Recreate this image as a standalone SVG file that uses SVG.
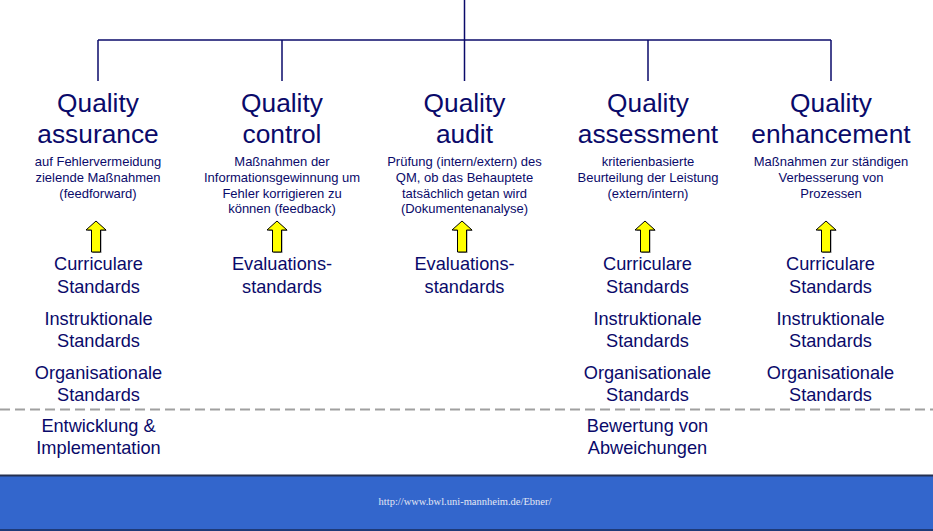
<svg xmlns="http://www.w3.org/2000/svg" xmlns:xlink="http://www.w3.org/1999/xlink" width="933" height="531" viewBox="0 0 933 531">
  <style>
    .t { font-family: "Liberation Sans", Arial, sans-serif; fill: #0a0a6a; text-anchor: middle; }
    .title { font-size: 26.3px; }
    .desc { font-size: 13px; }
    .std { font-size: 18.2px; }
    .conn { stroke: #0a0a6a; stroke-width: 1.5; fill: none; }
    .dash { stroke: #a0a0a0; stroke-width: 2; stroke-dasharray: 10 5; fill: none; }
    .foot { font-family: "Liberation Serif", "Times New Roman", serif; font-size: 10.5px; fill: #e4e8f4; text-anchor: middle; }
  </style>
  <defs>
    <g id="arrow">
      <path d="M1,1 L11,10 L5.5,10 L5.5,32 L-3.5,32 L-3.5,10 L-9,10 Z" fill="#8a8a8a"/>
      <path d="M0,0 L10,9 L4.5,9 L4.5,31 L-4.5,31 L-4.5,9 L-10,9 Z" fill="#ffff00" stroke="#000000" stroke-width="1" stroke-linejoin="miter"/>
    </g>
  </defs>
  <rect x="0" y="0" width="933" height="531" fill="#ffffff"/>

  <g id="connectors">
    <line class="conn" x1="464.5" y1="0" x2="464.5" y2="40"/>
    <line class="conn" x1="98" y1="40" x2="831" y2="40"/>
    <line class="conn" x1="98" y1="40" x2="98" y2="81"/>
    <line class="conn" x1="282" y1="40" x2="282" y2="81"/>
    <line class="conn" x1="464.5" y1="40" x2="464.5" y2="81"/>
    <line class="conn" x1="648" y1="40" x2="648" y2="81"/>
    <line class="conn" x1="831" y1="40" x2="831" y2="81"/>
    <use xlink:href="#arrow" href="#arrow" transform="translate(96,221)"/>
    <use xlink:href="#arrow" href="#arrow" transform="translate(277,221)"/>
    <use xlink:href="#arrow" href="#arrow" transform="translate(462,221)"/>
    <use xlink:href="#arrow" href="#arrow" transform="translate(645,221)"/>
    <use xlink:href="#arrow" href="#arrow" transform="translate(826,221)"/>
  </g>

  <g id="assurance">
    <text class="t title" x="98" y="112">Quality</text>
    <text class="t title" x="98" y="143">assurance</text>
    <text class="t desc" x="98" y="166">auf Fehlervermeidung</text>
    <text class="t desc" x="98" y="182">zielende Maßnahmen</text>
    <text class="t desc" x="98" y="197.5">(feedforward)</text>
  </g>
  <g id="control">
    <text class="t title" x="282" y="112">Quality</text>
    <text class="t title" x="282" y="143">control</text>
    <text class="t desc" x="282" y="166">Maßnahmen der</text>
    <text class="t desc" x="282" y="182">Informationsgewinnung um</text>
    <text class="t desc" x="282" y="197.5">Fehler korrigieren zu</text>
    <text class="t desc" x="282" y="213">können (feedback)</text>
  </g>
  <g id="audit">
    <text class="t title" x="464.5" y="112">Quality</text>
    <text class="t title" x="464.5" y="143">audit</text>
    <text class="t desc" x="464.5" y="166">Prüfung (intern/extern) des</text>
    <text class="t desc" x="464.5" y="182">QM, ob das Behauptete</text>
    <text class="t desc" x="464.5" y="197.5">tatsächlich getan wird</text>
    <text class="t desc" x="464.5" y="213">(Dokumentenanalyse)</text>
  </g>
  <g id="assessment">
    <text class="t title" x="648" y="112">Quality</text>
    <text class="t title" x="648" y="143">assessment</text>
    <text class="t desc" x="648" y="166">kriterienbasierte</text>
    <text class="t desc" x="648" y="182">Beurteilung der Leistung</text>
    <text class="t desc" x="648" y="197.5">(extern/intern)</text>
  </g>
  <g id="enhancement">
    <text class="t title" x="831" y="112">Quality</text>
    <text class="t title" x="831" y="143">enhancement</text>
    <text class="t desc" x="831" y="166">Maßnahmen zur ständigen</text>
    <text class="t desc" x="831" y="182">Verbesserung von</text>
    <text class="t desc" x="831" y="197.5">Prozessen</text>
  </g>

  <g id="standards-assurance">
    <text class="t std" x="98.5" y="270">Curriculare</text>
    <text class="t std" x="98.5" y="293">Standards</text>
    <text class="t std" x="98.5" y="325">Instruktionale</text>
    <text class="t std" x="98.5" y="347">Standards</text>
    <text class="t std" x="98.5" y="379">Organisationale</text>
    <text class="t std" x="98.5" y="401">Standards</text>
  </g>
  <g id="standards-control">
    <text class="t std" x="282" y="270">Evaluations-</text>
    <text class="t std" x="282" y="293">standards</text>
  </g>
  <g id="standards-audit">
    <text class="t std" x="464.5" y="270">Evaluations-</text>
    <text class="t std" x="464.5" y="293">standards</text>
  </g>
  <g id="standards-assessment">
    <text class="t std" x="647.5" y="270">Curriculare</text>
    <text class="t std" x="647.5" y="293">Standards</text>
    <text class="t std" x="647.5" y="325">Instruktionale</text>
    <text class="t std" x="647.5" y="347">Standards</text>
    <text class="t std" x="647.5" y="379">Organisationale</text>
    <text class="t std" x="647.5" y="401">Standards</text>
  </g>
  <g id="standards-enhancement">
    <text class="t std" x="830.5" y="270">Curriculare</text>
    <text class="t std" x="830.5" y="293">Standards</text>
    <text class="t std" x="830.5" y="325">Instruktionale</text>
    <text class="t std" x="830.5" y="347">Standards</text>
    <text class="t std" x="830.5" y="379">Organisationale</text>
    <text class="t std" x="830.5" y="401">Standards</text>
  </g>

  <line class="dash" x1="0" y1="409.5" x2="933" y2="409.5"/>

  <g id="entwicklung">
    <text class="t std" x="98.5" y="432">Entwicklung &amp;</text>
    <text class="t std" x="98.5" y="454">Implementation</text>
  </g>
  <g id="bewertung">
    <text class="t std" x="647.5" y="432">Bewertung von</text>
    <text class="t std" x="647.5" y="454">Abweichungen</text>
  </g>

  <g id="footer">
    <rect x="0" y="475" width="933" height="56" fill="#3366cc"/>
    <line x1="0" y1="475.5" x2="933" y2="475.5" stroke="#253050" stroke-width="2"/>
    <line x1="0" y1="530" x2="933" y2="530" stroke="#1e3a78" stroke-width="2"/>
    <text class="foot" x="465" y="505">http://www.bwl.uni-mannheim.de/Ebner/</text>
  </g>
</svg>
